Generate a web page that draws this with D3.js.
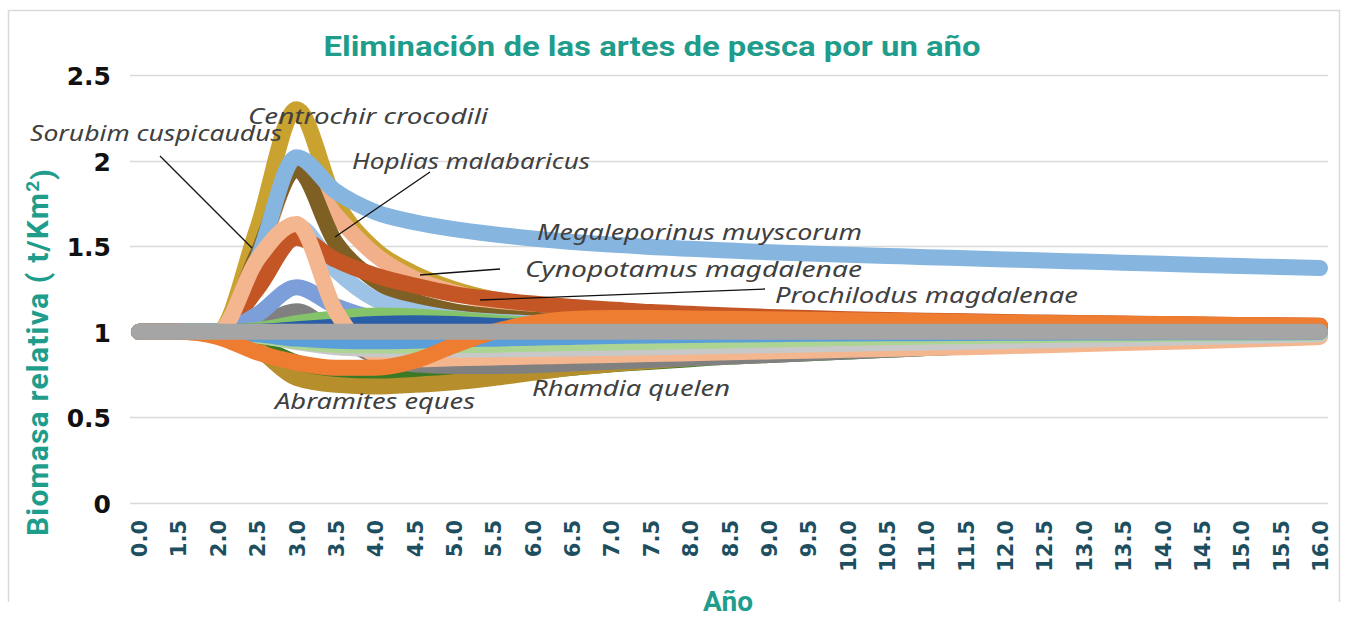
<!DOCTYPE html>
<html>
<head>
<meta charset="utf-8">
<script src="https://cdn.jsdelivr.net/npm/d3@7"></script>
<style>
  html, body { margin: 0; padding: 0; background: #fff; }
  svg { display: block; }
</style>
</head>
<body>
<div id="chart"></div>
<script>
// x categories (years) as shown on the axis
const xLabels = ["0.0","1.5","2.0","2.5","3.0","3.5","4.0","4.5","5.0","5.5","6.0","6.5","7.0","7.5","8.0","8.5",
  "9.0","9.5","10.0","10.5","11.0","11.5","12.0","12.5","13.0","13.5","14.0","14.5","15.0","15.5","16.0"];
const yTicks = [0, 0.5, 1, 1.5, 2, 2.5];

// relative biomass per species, one value per category
const centrochir   = [1,1,1,1.6,2.3,1.76,1.48,1.34,1.25,1.19,1.15,1.12,1.1,1.085,1.074,1.066,1.06,1.055,1.051,1.048,1.045,1.043,1.041,1.039,1.037,1.035,1.033,1.031,1.03,1.029,1.028];
const hoplias      = [1,1,1,1.45,1.95,1.52,1.3,1.18,1.12,1.09,1.07,1.055,1.047,1.04,1.036,1.033,1.03,1.028,1.026,1.024,1.022,1.02,1.019,1.018,1.017,1.016,1.015,1.014,1.013,1.012,1.011];
const cynopotamus  = [1,1,1,1.42,1.96,1.68,1.45,1.31,1.23,1.17,1.13,1.105,1.088,1.075,1.065,1.057,1.051,1.046,1.042,1.038,1.035,1.032,1.03,1.028,1.026,1.024,1.022,1.02,1.019,1.018,1.017];
const megaleporinus= [1,1,1,1.42,2.02,1.82,1.7,1.64,1.6,1.57,1.545,1.525,1.51,1.495,1.485,1.475,1.465,1.457,1.45,1.443,1.436,1.43,1.423,1.416,1.41,1.403,1.397,1.39,1.384,1.378,1.372];
const lightBlue    = [1,1,1,1.3,1.62,1.36,1.19,1.12,1.08,1.06,1.05,1.04,1.035,1.03,1.025,1.02,1.018,1.016,1.014,1.012,1.01,1.009,1.008,1.007,1.006,1.005,1.004,1.003,1.002,1.001,1];
const prochilodus  = [1,1,1,1.25,1.55,1.42,1.33,1.27,1.22,1.19,1.165,1.145,1.13,1.115,1.105,1.095,1.087,1.08,1.074,1.069,1.065,1.061,1.057,1.054,1.051,1.048,1.045,1.043,1.04,1.038,1.036];
const periwinkle   = [1,1,1,1.1,1.26,1.15,1.08,1.06,1.05,1.045,1.04,1.035,1.03,1.027,1.024,1.021,1.019,1.017,1.015,1.013,1.011,1.01,1.009,1.008,1.007,1.006,1.005,1.004,1.003,1.002,1.001];
const greenUp      = [1,1,1,1.01,1.05,1.08,1.095,1.09,1.075,1.055,1.04,1.03,1.024,1.019,1.015,1.012,1.01,1.008,1.007,1.006,1.005,1.004,1.003,1.003,1.002,1.002,1.001,1.001,1,1,1];
const navyUp       = [1,1,1,1,1.015,1.03,1.045,1.05,1.045,1.035,1.027,1.02,1.016,1.013,1.01,1.008,1.006,1.005,1.004,1.003,1.003,1.002,1.002,1.001,1.001,1,1,1,1,1,1];
const sorubim      = [1,1,1,1.42,1.63,1.12,0.87,0.84,0.845,0.85,0.855,0.86,0.865,0.87,0.875,0.88,0.885,0.89,0.895,0.9,0.905,0.91,0.916,0.922,0.928,0.934,0.94,0.946,0.953,0.961,0.97];
const darkGray     = [1,1,1,1.04,1.12,0.98,0.86,0.81,0.8,0.8,0.805,0.815,0.825,0.835,0.845,0.855,0.865,0.875,0.885,0.895,0.905,0.913,0.921,0.929,0.937,0.945,0.952,0.959,0.966,0.972,0.978];
const lightGray    = [1,1,1,0.98,0.94,0.91,0.9,0.895,0.895,0.897,0.9,0.903,0.906,0.91,0.914,0.918,0.922,0.926,0.93,0.934,0.938,0.942,0.946,0.95,0.955,0.96,0.965,0.97,0.975,0.98,0.985];
const lightGreen   = [1,1,1,0.98,0.945,0.925,0.92,0.92,0.922,0.925,0.93,0.934,0.938,0.942,0.946,0.95,0.955,0.96,0.964,0.968,0.972,0.975,0.978,0.981,0.984,0.986,0.988,0.99,0.992,0.994,0.995];
const blueDown     = [1,1,1,0.985,0.96,0.948,0.945,0.948,0.955,0.96,0.965,0.97,0.975,0.978,0.981,0.984,0.986,0.988,0.99,0.991,0.992,0.993,0.994,0.995,0.996,0.996,0.997,0.997,0.998,0.998,0.999];
const rhamdia      = [1,1,0.99,0.92,0.82,0.76,0.74,0.735,0.74,0.755,0.77,0.79,0.81,0.825,0.84,0.855,0.865,0.875,0.885,0.895,0.905,0.915,0.925,0.933,0.941,0.949,0.956,0.963,0.97,0.975,0.98];
const abramites    = [1,1,0.98,0.9,0.73,0.69,0.68,0.69,0.705,0.73,0.76,0.79,0.81,0.83,0.845,0.86,0.87,0.88,0.89,0.9,0.91,0.92,0.928,0.936,0.944,0.952,0.958,0.964,0.97,0.975,0.98];
const orange       = [1,1,0.97,0.88,0.82,0.79,0.79,0.83,0.92,1.0,1.05,1.075,1.08,1.08,1.078,1.076,1.073,1.07,1.067,1.064,1.061,1.058,1.055,1.052,1.05,1.047,1.045,1.042,1.04,1.037,1.035];
const baseline     = xLabels.map(() => 1);

// drawing order follows the original (last one on top)
const series = [
  { values: centrochir,    color: '#c9a22f' },
  { values: cynopotamus,   color: '#f2b08a' },
  { values: hoplias,       color: '#7f6024' },
  { values: megaleporinus, color: '#86b5e0' },
  { values: lightBlue,     color: '#9cc3e6' },
  { values: rhamdia,       color: '#3b7a24' },
  { values: abramites,     color: '#b68f2c' },
  { values: darkGray,      color: '#808080' },
  { values: prochilodus,   color: '#c35624' },
  { values: periwinkle,    color: '#7d9fd9' },
  { values: greenUp,       color: '#84c36a' },
  { values: navyUp,        color: '#2a5fa8' },
  { values: sorubim,       color: '#f4b68f' },
  { values: lightGray,     color: '#c8c8c8' },
  { values: lightGreen,    color: '#acd493' },
  { values: blueDown,      color: '#5a9fd9' },
  { values: orange,        color: '#ee7d31' },
  { values: baseline,      color: '#a5a5a5' }
];

const labels = [
  { text: 'Centrochir crocodili',     x: 248, y: 124, len: 240 },
  { text: 'Sorubim cuspicaudus',      x: 30,  y: 141, len: 252 },
  { text: 'Hoplias malabaricus',      x: 352, y: 169, len: 238 },
  { text: 'Megaleporinus  muyscorum', x: 537, y: 240, len: 325 },
  { text: 'Cynopotamus magdalenae',   x: 525, y: 277, len: 337 },
  { text: 'Prochilodus magdalenae',   x: 775, y: 303, len: 303 },
  { text: 'Rhamdia quelen',           x: 532, y: 396, len: 198 },
  { text: 'Abramites eques',          x: 275, y: 409, len: 200 }
];
const leaders = [
  [160, 156, 252, 248],
  [430, 172, 335, 237],
  [500, 269, 420, 275],
  [765, 289, 480, 300]
];

const width = 1347, height = 618;
const margin = { top: 75, right: 27, bottom: 115, left: 139 };

const svg = d3.select('#chart').append('svg')
  .attr('width', width).attr('height', height);

// frame
svg.append('path')
  .attr('d', 'M8.5,602 V10.5 H1339.5 V602')
  .attr('fill', 'none').attr('stroke', '#d9d9d9').attr('stroke-width', 1.5);

const xScale = d3.scalePoint().domain(xLabels).range([margin.left, width - margin.right]);
const yScale = d3.scaleLinear().domain([0, 2.5]).range([height - margin.bottom, margin.top]);

// gridlines
svg.append('g').selectAll('line').data(yTicks).enter().append('line')
  .attr('x1', 130).attr('x2', 1328)
  .attr('y1', d => Math.round(yScale(d)) + 0.5).attr('y2', d => Math.round(yScale(d)) + 0.5)
  .attr('stroke', '#d9d9d9').attr('stroke-width', 1.5);

// y axis
const gy = svg.append('g').attr('transform', 'translate(111,0)')
  .call(d3.axisLeft(yScale).tickValues(yTicks).tickSize(0).tickPadding(0).tickFormat(d3.format('')));
gy.select('.domain').remove();
gy.selectAll('text')
  .style('font-family', '"DejaVu Sans", sans-serif').style('font-weight', 700)
  .style('font-size', '25px').attr('fill', '#111').attr('dy', '0.38em');

// x axis
const gx = svg.append('g').attr('transform', `translate(0, 520)`)
  .call(d3.axisBottom(xScale).tickSize(0).tickPadding(0));
gx.select('.domain').remove();
gx.selectAll('text')
  .style('font-family', '"DejaVu Sans", sans-serif').style('font-weight', 700)
  .style('font-size', '21px').attr('fill', '#1d4f61')
  .style('text-anchor', 'end')
  .attr('x', 0).attr('y', 0).attr('dy', '0.36em')
  .attr('transform', 'rotate(-90)');

// series
const line = d3.line()
  .x((d, i) => xScale(xLabels[i]))
  .y(d => yScale(d))
  .curve(d3.curveMonotoneX);

const gs = svg.append('g');
series.forEach(s => {
  gs.append('path')
    .attr('d', line(s.values))
    .attr('fill', 'none')
    .attr('stroke', s.color)
    .attr('stroke-width', 16)
    .attr('stroke-linecap', 'round')
    .attr('stroke-linejoin', 'round');
});

// leader lines and species labels
svg.append('g').selectAll('line').data(leaders).enter().append('line')
  .attr('x1', d => d[0]).attr('y1', d => d[1]).attr('x2', d => d[2]).attr('y2', d => d[3])
  .attr('stroke', '#111').attr('stroke-width', 1.3);

svg.append('g').selectAll('text').data(labels).enter().append('text')
  .attr('x', d => d.x).attr('y', d => d.y)
  .attr('textLength', d => d.len).attr('lengthAdjust', 'spacingAndGlyphs')
  .style('font-family', '"Noto Sans", sans-serif').style('font-style', 'italic')
  .style('font-size', '21px').attr('fill', '#404040')
  .text(d => d.text);

// titles
svg.append('text')
  .attr('x', 652).attr('y', 56).attr('text-anchor', 'middle')
  .attr('textLength', 657).attr('lengthAdjust', 'spacingAndGlyphs')
  .style('font-family', 'Roboto, sans-serif').style('font-weight', 700).style('font-size', '28px')
  .attr('fill', '#1f9d8c')
  .text('Eliminación de las artes de pesca por un año');

svg.append('text')
  .attr('x', 728).attr('y', 611).attr('text-anchor', 'middle')
  .style('font-family', 'Roboto, sans-serif').style('font-weight', 700).style('font-size', '28px')
  .attr('fill', '#1f9d8c')
  .text('Año');

const yt = svg.append('text')
  .attr('transform', 'translate(48,352) rotate(-90)').attr('text-anchor', 'middle')
  .style('font-family', 'Roboto, sans-serif').style('font-weight', 700).style('font-size', '30px')
  .style('letter-spacing', '1.2px')
  .attr('fill', '#1f9d8c');
yt.append('tspan').text('Biomasa relativa ( t/Km');
yt.append('tspan').attr('dy', '-0.45em').style('font-size', '19px').text('2');
yt.append('tspan').attr('dy', '0.45em').text(')');
</script>
</body>
</html>
